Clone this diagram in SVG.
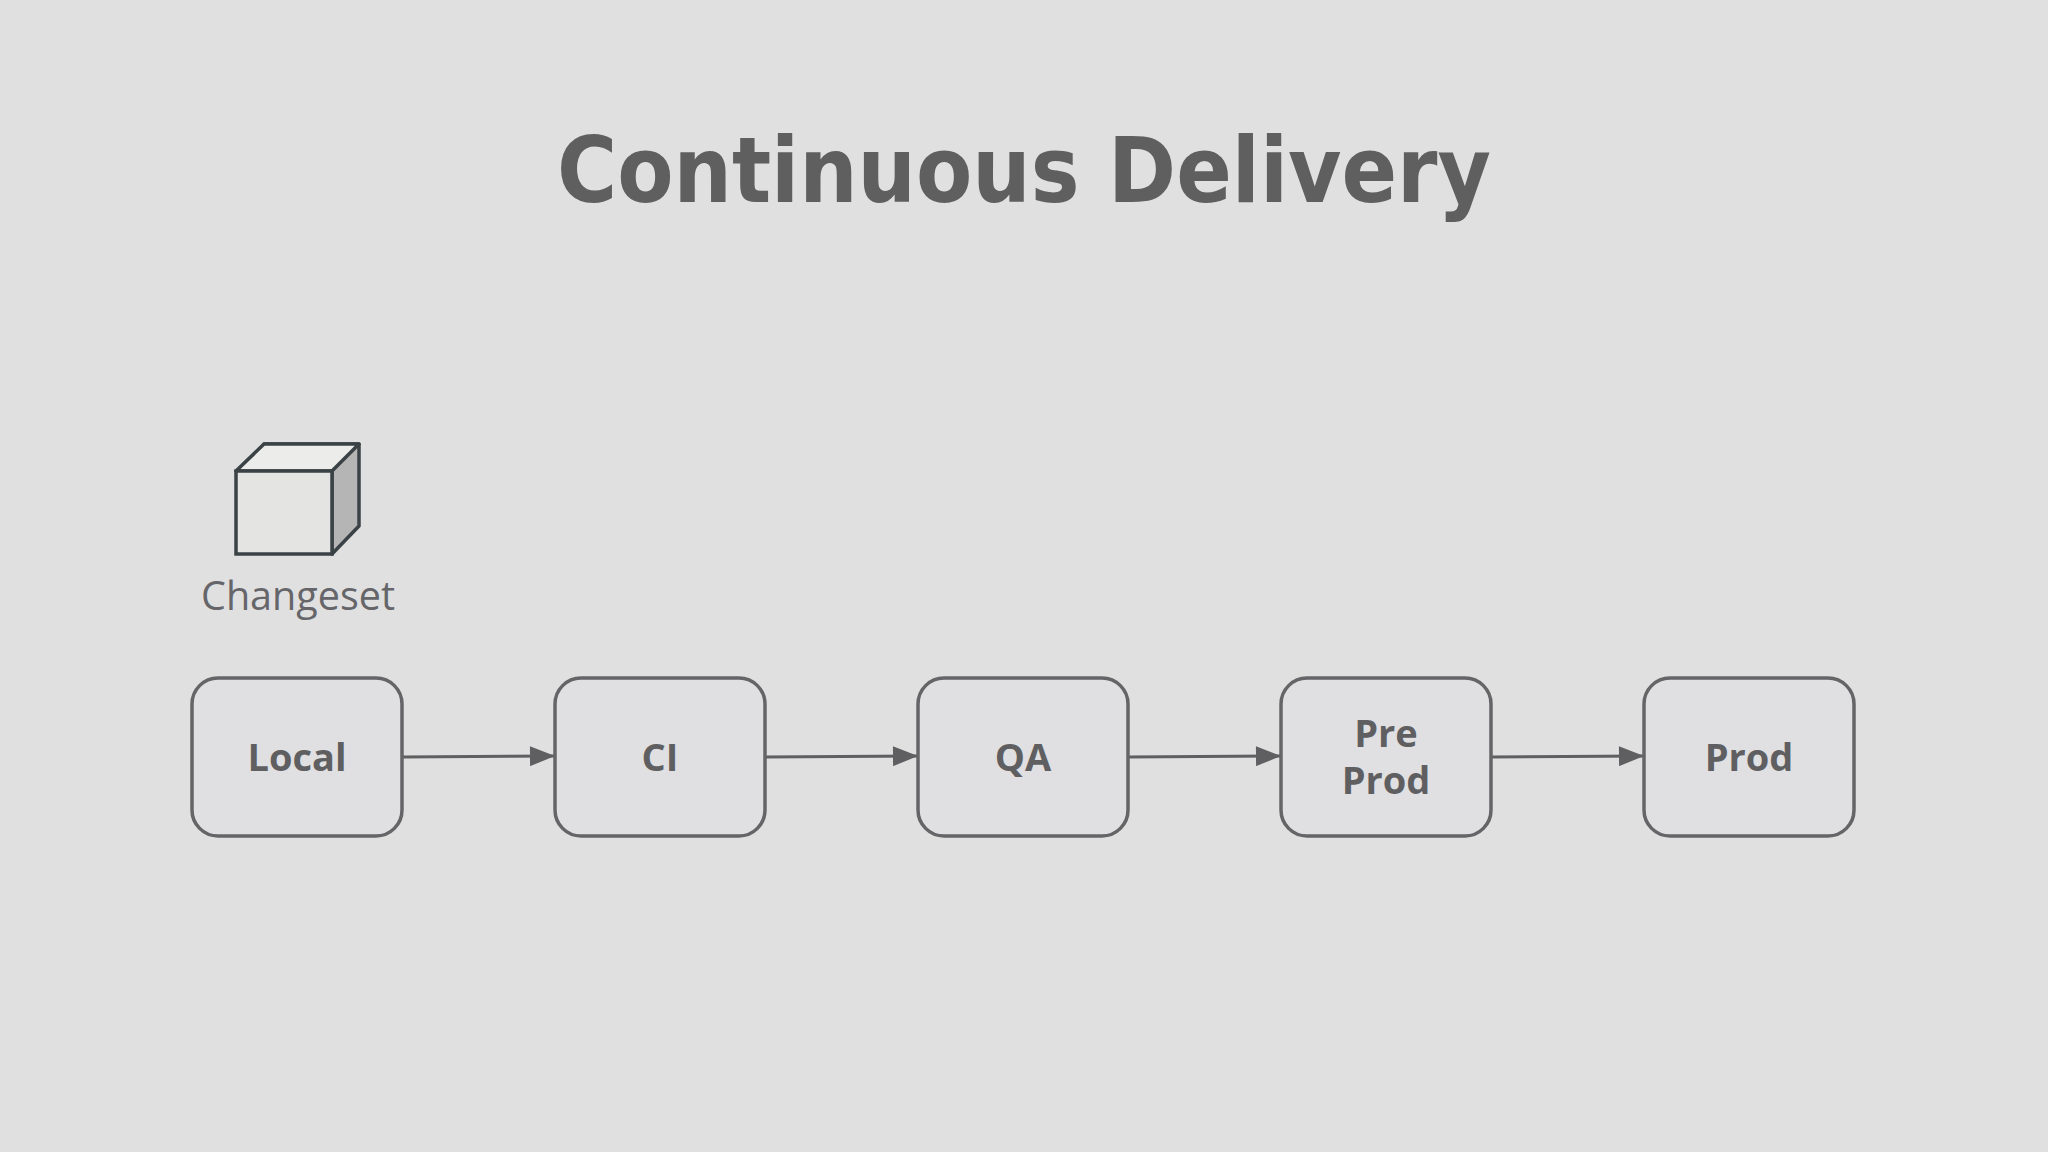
<svg xmlns="http://www.w3.org/2000/svg" width="2048" height="1152" viewBox="0 0 2048 1152">
<defs>
<marker id="a" viewBox="0 0 10 8" refX="10" refY="4" markerWidth="26" markerHeight="20" markerUnits="userSpaceOnUse" orient="auto"><path d="M0,0 L10,4 L0,8 z" fill="#5f5f62"/></marker>
</defs>
<style>
.box{fill:#e0dfe1;stroke:#656467;stroke-width:3.5}
.lbl{font-family:"Open Sans",sans-serif;font-weight:bold;font-size:38px;fill:#5f5f62;text-anchor:middle}
.c{stroke:#5f5f62;stroke-width:3;fill:none;marker-end:url(#a)}
</style>
<rect width="2048" height="1152" fill="#e0e0e0"/>
<text x="1024" y="202" font-family="DejaVu Sans,sans-serif" font-weight="bold" font-size="90" textLength="934" lengthAdjust="spacingAndGlyphs" fill="#5f5f5f" text-anchor="middle">Continuous Delivery</text>
<g id="changeset">
<path d="M264,444 L359,444 L359,526 L332,554 L332,471 Z" fill="#b5b5b5" stroke="#3a4246" stroke-width="3.5" stroke-linejoin="round"/>
<path d="M236,471 L264,444 L359,444 L332,471 Z" fill="#ececea" stroke="#3a4246" stroke-width="3.5" stroke-linejoin="round"/>
<rect x="236" y="471" width="96" height="83" fill="#e4e4e2" stroke="#3a4246" stroke-width="3.5"/>
<text x="298" y="610" font-family="Open Sans,sans-serif" font-size="39.5" fill="#66666a" text-anchor="middle">Changeset</text>
</g>
<g id="connectors">
<path class="c" d="M402,757 L555,756"/>
<path class="c" d="M765,757 L918,756"/>
<path class="c" d="M1128,757 L1281,756"/>
<path class="c" d="M1491,757 L1644,756"/>
</g>
<g id="local"><rect class="box" x="192" y="678" width="210" height="158" rx="26"/><text class="lbl" x="297" y="771">Local</text></g>
<g id="ci"><rect class="box" x="555" y="678" width="210" height="158" rx="26"/><text class="lbl" x="660" y="771">CI</text></g>
<g id="qa"><rect class="box" x="918" y="678" width="210" height="158" rx="26"/><text class="lbl" x="1023" y="771">QA</text></g>
<g id="preprod"><rect class="box" x="1281" y="678" width="210" height="158" rx="26"/><text class="lbl" x="1386" y="747">Pre</text><text class="lbl" x="1386" y="794">Prod</text></g>
<g id="prod"><rect class="box" x="1644" y="678" width="210" height="158" rx="26"/><text class="lbl" x="1749" y="771">Prod</text></g>
</svg>
